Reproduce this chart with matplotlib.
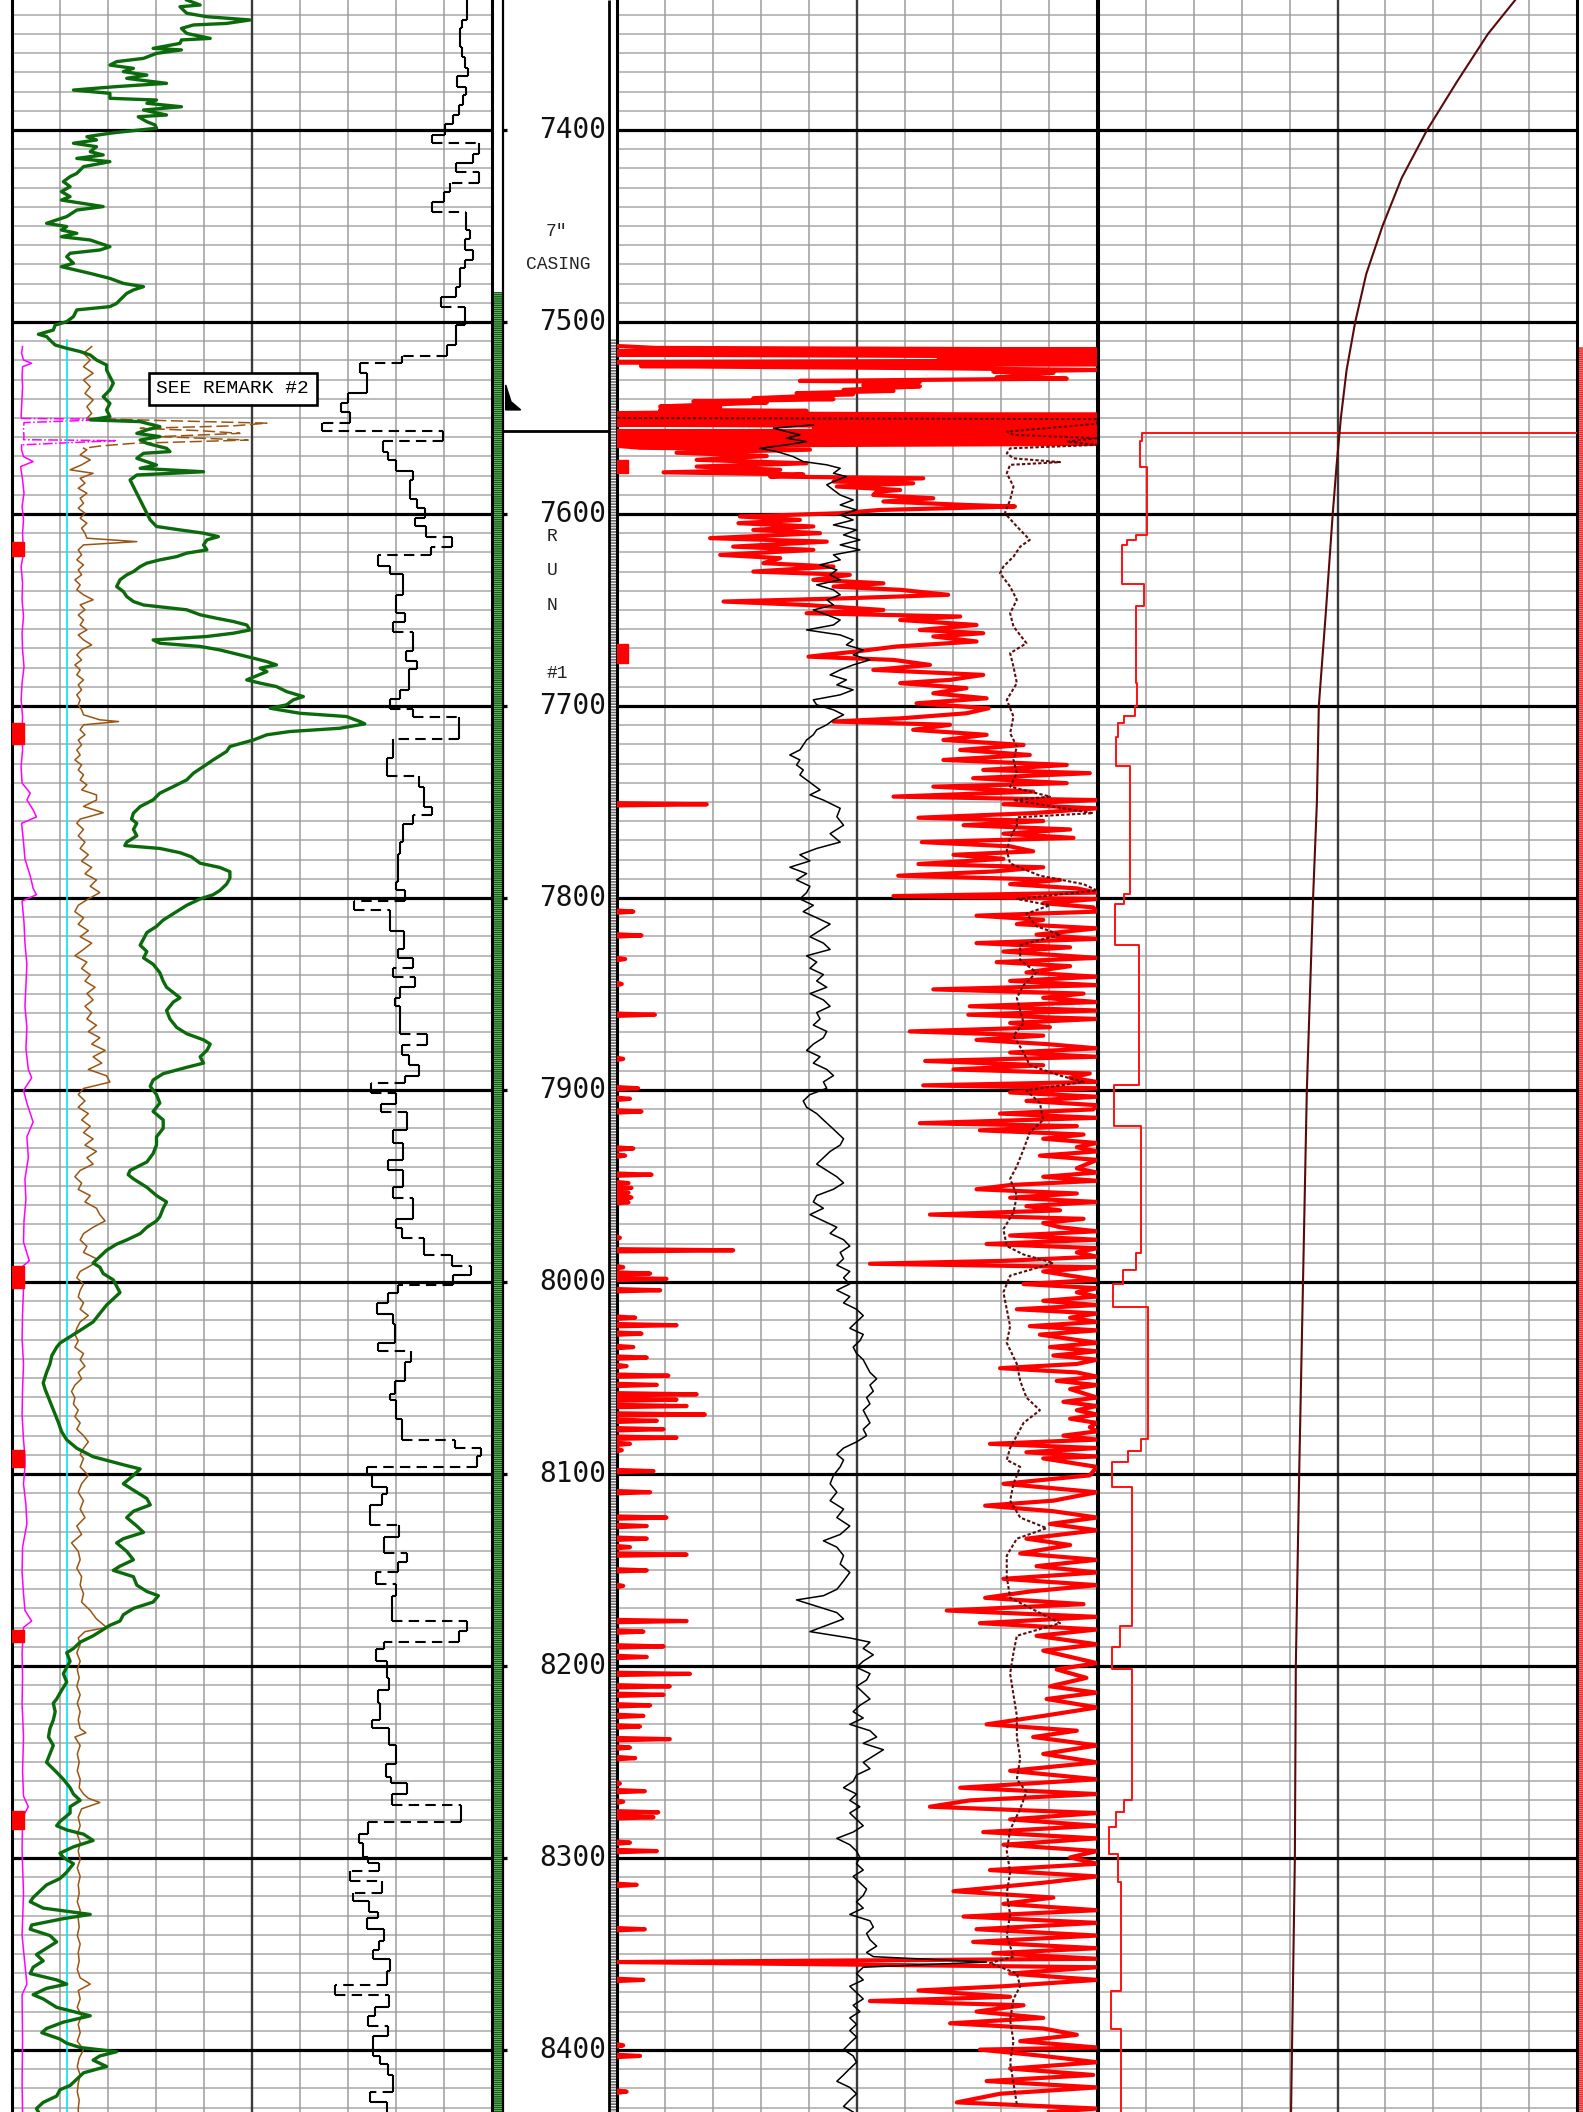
import numpy as np
import matplotlib.pyplot as plt
from matplotlib.patches import Rectangle, Polygon
from matplotlib.collections import LineCollection

plt.rcParams['hatch.linewidth'] = 1.2

# depth window of the print (ft)
TOP, BASE = 7332.3, 8432.3

# ---------------- track 1 (values in chart divisions, 0-10) ----------------
# green curve (depth, value)
green = [
    (7332.3, 3.64), (7334.9, 3.92), (7335.8, 3.50), (7339.2, 3.64), (7341.0, 4.06), (7342.7, 4.96),
    (7344.5, 4.47), (7345.3, 3.78), (7347.1, 3.53), (7349.7, 3.64), (7352.3, 4.13), (7353.1, 3.53),
    (7354.9, 3.50), (7357.5, 2.94), (7358.3, 3.53), (7360.1, 3.01), (7362.7, 2.74), (7364.4, 2.18),
    (7366.2, 2.04), (7367.9, 2.53), (7369.6, 2.32), (7371.4, 2.81), (7373.1, 2.39), (7375.7, 3.22),
    (7377.4, 2.18), (7379.2, 1.28), (7380.9, 2.04), (7383.5, 2.04), (7384.4, 3.01), (7386.1, 2.81),
    (7387.9, 3.53), (7389.6, 2.74), (7392.2, 3.22), (7393.1, 2.63), (7395.7, 2.81), (7397.4, 2.98),
    (7399.1, 3.01), (7400.9, 2.32), (7401.7, 2.04), (7403.5, 1.56), (7405.2, 1.76), (7406.9, 1.28),
    (7408.7, 1.76), (7411.3, 1.63), (7413.0, 1.90), (7414.8, 1.35), (7416.5, 2.04), (7419.1, 1.49),
    (7422.6, 1.35), (7424.3, 1.21), (7426.9, 1.07), (7429.5, 1.21), (7432.1, 1.03), (7434.7, 1.21),
    (7436.5, 1.03), (7439.9, 1.90), (7441.7, 1.35), (7445.1, 1.14), (7448.6, 0.72), (7450.3, 1.14),
    (7452.1, 1.03), (7453.8, 1.35), (7455.6, 1.03), (7457.3, 1.63), (7459.0, 1.83), (7460.8, 2.04),
    (7462.5, 1.83), (7464.2, 1.21), (7466.0, 1.14), (7469.4, 1.28), (7471.2, 1.03), (7474.7, 1.63),
    (7477.3, 2.04), (7479.9, 2.32), (7481.6, 2.74), (7483.3, 2.53), (7485.1, 2.39), (7486.8, 2.32),
    (7488.5, 2.25), (7490.3, 2.18), (7492.0, 2.04), (7493.7, 1.35), (7497.2, 1.28), (7499.8, 1.14),
    (7501.6, 0.90), (7504.2, 0.86), (7506.4, 0.55), (7507.6, 0.72), (7509.4, 0.79), (7512.0, 0.90),
    (7513.7, 1.14), (7515.4, 1.42), (7517.2, 1.63), (7519.8, 1.76), (7522.4, 1.97), (7525.0, 1.97),
    (7528.5, 2.04), (7531.9, 2.11), (7535.4, 2.04), (7538.9, 1.90), (7542.4, 2.04), (7545.8, 1.97),
    (7549.3, 2.04), (7551.0, 1.63), (7551.9, 2.67), (7554.5, 3.08), (7556.2, 2.81), (7558.0, 2.60),
    (7559.7, 3.08), (7561.5, 2.67), (7563.2, 2.81), (7565.8, 3.22), (7567.5, 3.29), (7568.4, 2.74),
    (7571.0, 2.60), (7574.5, 3.01), (7576.2, 2.67), (7578.0, 3.99), (7579.7, 2.60), (7582.3, 2.46),
    (7585.8, 2.53), (7589.2, 2.60), (7592.7, 2.67), (7596.2, 2.74), (7599.6, 2.81), (7603.1, 2.88),
    (7606.5, 3.01), (7608.3, 3.50), (7610.0, 3.99), (7611.8, 4.30), (7613.5, 4.06), (7616.1, 3.99),
    (7618.7, 4.06), (7620.4, 3.64), (7622.2, 3.43), (7623.9, 3.08), (7625.6, 2.81), (7627.4, 2.67),
    (7630.0, 2.53), (7631.7, 2.39), (7634.3, 2.25), (7637.8, 2.18), (7640.4, 2.32), (7643.0, 2.39),
    (7645.6, 2.53), (7647.4, 2.74), (7649.9, 3.64), (7652.5, 3.92), (7654.3, 4.26), (7656.0, 4.61),
    (7657.8, 4.89), (7660.4, 4.96), (7662.1, 4.61), (7663.8, 4.06), (7665.6, 2.94), (7667.3, 3.08),
    (7669.0, 3.92), (7670.8, 4.33), (7672.5, 4.61), (7675.1, 5.03), (7676.9, 5.31), (7678.6, 5.51),
    (7680.3, 5.17), (7682.1, 5.31), (7686.4, 4.89), (7688.1, 5.17), (7689.9, 5.51), (7692.5, 5.72),
    (7695.1, 6.07), (7696.8, 5.86), (7699.4, 5.72), (7701.2, 5.38), (7703.8, 6.00), (7705.5, 6.97),
    (7708.1, 7.25), (7709.3, 7.35), (7711.6, 6.83), (7713.3, 5.79), (7715.0, 5.31), (7717.7, 5.03),
    (7721.1, 4.54), (7723.7, 4.47), (7728.1, 4.19), (7731.5, 3.99), (7735.0, 3.78), (7738.5, 3.64),
    (7742.0, 3.36), (7745.4, 3.08), (7748.9, 2.94), (7752.4, 2.67), (7755.8, 2.53), (7758.9, 2.49),
    (7761.1, 2.60), (7764.3, 2.53), (7767.6, 2.60), (7770.9, 2.39), (7772.7, 2.35), (7774.2, 3.08),
    (7776.4, 3.50), (7778.6, 3.74), (7781.9, 3.92), (7784.1, 4.33), (7786.3, 4.54), (7789.6, 4.54),
    (7792.8, 4.47), (7796.1, 4.33), (7798.3, 4.19), (7800.5, 3.92), (7803.8, 3.64), (7807.1, 3.43),
    (7811.5, 3.15), (7814.8, 3.01), (7818.0, 2.81), (7821.3, 2.74), (7824.6, 2.67), (7827.9, 2.81),
    (7831.2, 2.74), (7834.5, 2.94), (7838.9, 3.08), (7843.3, 3.15), (7846.5, 3.22), (7852.0, 3.50),
    (7854.2, 3.36), (7858.6, 3.22), (7863.0, 3.29), (7867.4, 3.43), (7870.7, 3.64), (7873.9, 3.99),
    (7876.1, 4.13), (7879.4, 4.06), (7882.7, 3.92), (7886.0, 3.99), (7888.2, 3.64), (7891.5, 3.15),
    (7894.8, 2.94), (7898.1, 2.88), (7902.4, 3.01), (7906.8, 3.08), (7911.2, 2.94), (7915.6, 3.15),
    (7920.0, 3.15), (7924.4, 3.01), (7928.7, 3.01), (7933.1, 2.94), (7937.5, 2.81), (7941.9, 2.46),
    (7944.1, 2.42), (7946.3, 2.53), (7950.7, 2.81), (7955.0, 3.01), (7958.3, 3.22), (7961.6, 3.15),
    (7966.0, 3.08), (7968.2, 3.01), (7971.5, 2.81), (7974.8, 2.67), (7978.1, 2.39), (7980.3, 2.18),
    (7983.5, 1.97), (7986.8, 1.83), (7990.1, 1.69), (7992.3, 1.83), (7995.6, 1.90), (7998.9, 2.11),
    (8002.2, 2.18), (8005.5, 2.25), (8008.8, 2.11), (8012.0, 1.97), (8016.4, 1.83), (8020.8, 1.69),
    (8025.2, 1.42), (8029.6, 1.14), (8031.8, 1.00), (8034.0, 0.93), (8038.3, 0.83), (8042.7, 0.79),
    (8047.1, 0.72), (8052.6, 0.65), (8055.9, 0.69), (8060.3, 0.76), (8064.6, 0.83), (8069.0, 0.90),
    (8073.4, 0.97), (8077.8, 1.03), (8082.2, 1.14), (8086.6, 1.35), (8091.0, 1.69), (8095.2, 2.32),
    (8097.4, 2.67), (8100.7, 2.53), (8105.1, 2.32), (8109.5, 2.60), (8112.8, 2.81), (8116.1, 2.88),
    (8119.4, 2.53), (8122.7, 2.39), (8127.1, 2.60), (8130.4, 2.74), (8133.7, 2.32), (8135.9, 2.18),
    (8140.3, 2.39), (8144.7, 2.53), (8148.0, 2.25), (8150.2, 2.11), (8153.5, 2.53), (8157.9, 2.60),
    (8161.2, 2.81), (8163.4, 3.05), (8166.7, 2.94), (8170.0, 2.53), (8173.3, 2.32), (8176.6, 2.25),
    (8178.8, 2.04), (8181.0, 1.90), (8184.3, 1.69), (8187.6, 1.42), (8190.9, 1.28), (8193.1, 1.14),
    (8197.5, 1.21), (8200.7, 1.14), (8204.0, 1.07), (8208.4, 1.14), (8212.8, 1.03), (8217.2, 0.93),
    (8219.4, 0.86), (8223.8, 0.90), (8228.2, 0.86), (8232.6, 0.79), (8237.0, 0.76), (8241.4, 0.86),
    (8245.8, 0.79), (8250.2, 0.72), (8254.6, 0.90), (8259.0, 1.07), (8263.4, 1.21), (8266.7, 1.28),
    (8270.0, 1.42), (8273.3, 1.21), (8276.6, 1.21), (8281.0, 1.00), (8283.2, 0.93), (8285.4, 1.14),
    (8287.6, 1.49), (8290.9, 1.69), (8294.2, 1.28), (8297.5, 1.00), (8299.7, 1.07), (8303.0, 1.28),
    (8307.4, 1.14), (8310.7, 1.00), (8314.0, 0.72), (8317.3, 0.58), (8320.6, 0.44), (8322.8, 0.38),
    (8326.1, 0.65), (8329.4, 1.63), (8331.6, 1.07), (8334.9, 0.41), (8337.1, 0.38), (8340.4, 0.79),
    (8343.7, 0.93), (8347.0, 0.72), (8350.3, 0.51), (8353.6, 0.65), (8356.9, 0.44), (8360.2, 0.38),
    (8363.5, 0.93), (8365.7, 1.14), (8367.9, 0.72), (8371.2, 0.44), (8373.4, 0.65), (8377.8, 0.93),
    (8382.2, 1.63), (8385.5, 1.07), (8388.8, 0.72), (8391.0, 0.62), (8394.3, 1.00), (8396.5, 1.14),
    (8398.7, 1.42), (8400.9, 2.18), (8403.1, 1.83), (8405.3, 1.69), (8408.6, 1.97), (8411.9, 1.49),
    (8415.2, 1.35), (8418.5, 1.21), (8420.7, 1.00), (8424.0, 0.93), (8427.3, 0.65), (8430.5, 0.51),
    (8432.3, 0.55),
]

# brown curve
brown = [
    (7512.8, 1.66), (7516.3, 1.49), (7519.8, 1.63), (7523.3, 1.49), (7526.7, 1.69), (7530.2, 1.49),
    (7533.7, 1.63), (7537.2, 1.52), (7540.6, 1.69), (7544.1, 1.56), (7547.6, 1.66), (7550.2, 1.56),
    (7551.4, 3.22), (7552.7, 5.31), (7554.1, 4.61), (7555.4, 2.67), (7556.6, 3.92), (7558.0, 4.75),
    (7559.7, 3.08), (7561.5, 4.92), (7563.2, 2.53), (7564.6, 1.83), (7565.8, 1.49), (7566.6, 1.56),
    (7569.2, 1.42), (7571.8, 1.63), (7574.4, 1.45), (7577.0, 1.21), (7578.8, 1.69), (7581.4, 1.42),
    (7584.0, 1.52), (7586.6, 1.38), (7589.2, 1.56), (7591.8, 1.42), (7594.4, 1.49), (7597.0, 1.38),
    (7599.6, 1.52), (7602.2, 1.42), (7604.8, 1.56), (7607.4, 1.45), (7610.0, 1.52), (7612.6, 1.56),
    (7614.4, 2.60), (7616.1, 1.49), (7618.7, 1.38), (7621.3, 1.45), (7623.9, 1.35), (7626.5, 1.49),
    (7629.1, 1.38), (7631.7, 1.45), (7634.3, 1.31), (7636.9, 1.42), (7639.5, 1.35), (7642.1, 1.49),
    (7644.7, 1.69), (7647.3, 1.42), (7649.9, 1.52), (7652.6, 1.38), (7655.2, 1.49), (7657.8, 1.42),
    (7660.4, 1.56), (7663.0, 1.38), (7665.6, 1.49), (7668.2, 1.66), (7670.8, 1.45), (7673.4, 1.35),
    (7676.0, 1.45), (7678.6, 1.31), (7681.2, 1.42), (7683.8, 1.35), (7686.4, 1.49), (7689.0, 1.38),
    (7691.6, 1.45), (7694.2, 1.35), (7696.8, 1.42), (7699.4, 1.38), (7702.0, 1.45), (7704.6, 1.49),
    (7707.2, 1.83), (7708.1, 2.22), (7709.8, 1.49), (7712.4, 1.42), (7715.0, 1.52), (7717.7, 1.38),
    (7720.3, 1.45), (7722.9, 1.35), (7725.5, 1.42), (7728.1, 1.31), (7730.7, 1.45), (7733.3, 1.38),
    (7735.9, 1.49), (7738.5, 1.42), (7741.1, 1.56), (7743.7, 1.45), (7746.3, 1.76), (7749.0, 1.76),
    (7752.3, 1.49), (7755.6, 1.90), (7758.9, 1.42), (7761.1, 1.35), (7764.3, 1.49), (7767.6, 1.38),
    (7770.9, 1.52), (7774.2, 1.42), (7777.5, 1.59), (7780.8, 1.45), (7784.1, 1.66), (7787.4, 1.52),
    (7790.6, 1.76), (7793.9, 1.63), (7797.2, 1.83), (7800.5, 1.59), (7803.8, 1.38), (7807.1, 1.31),
    (7810.4, 1.49), (7813.7, 1.38), (7817.0, 1.59), (7820.2, 1.42), (7823.5, 1.66), (7826.8, 1.49),
    (7830.1, 1.31), (7833.4, 1.56), (7836.7, 1.45), (7840.0, 1.63), (7843.3, 1.52), (7846.5, 1.73),
    (7849.8, 1.56), (7853.1, 1.69), (7856.4, 1.52), (7859.7, 1.66), (7863.0, 1.56), (7866.3, 1.76),
    (7869.6, 1.59), (7872.8, 1.83), (7876.1, 1.66), (7879.4, 1.94), (7882.7, 1.69), (7886.0, 1.87),
    (7889.3, 1.59), (7892.6, 1.97), (7895.9, 2.04), (7899.2, 1.49), (7902.4, 1.38), (7905.7, 1.52),
    (7909.0, 1.38), (7912.3, 1.59), (7915.6, 1.45), (7918.9, 1.63), (7922.2, 1.49), (7925.5, 1.69),
    (7928.7, 1.52), (7932.0, 1.76), (7935.3, 1.56), (7938.6, 1.69), (7941.9, 1.42), (7945.2, 1.31),
    (7948.5, 1.45), (7951.8, 1.38), (7955.0, 1.63), (7958.3, 1.52), (7961.6, 1.76), (7964.9, 1.83),
    (7968.2, 1.94), (7971.5, 1.69), (7974.8, 1.49), (7978.1, 1.42), (7981.4, 1.56), (7984.6, 1.49),
    (7987.9, 1.76), (7991.2, 1.66), (7994.5, 1.42), (7997.8, 1.35), (8001.1, 1.49), (8004.4, 1.42),
    (8007.7, 1.38), (8010.9, 1.49), (8014.2, 1.42), (8017.5, 1.59), (8020.8, 1.42), (8024.1, 1.35),
    (8027.4, 1.31), (8030.7, 1.38), (8034.0, 1.31), (8037.3, 1.49), (8040.5, 1.42), (8043.8, 1.52),
    (8047.1, 1.38), (8050.4, 1.45), (8053.7, 1.31), (8057.0, 1.24), (8060.3, 1.31), (8063.6, 1.28),
    (8066.8, 1.38), (8070.1, 1.31), (8073.4, 1.42), (8076.7, 1.35), (8080.0, 1.49), (8083.3, 1.59),
    (8086.6, 1.49), (8089.9, 1.42), (8091.9, 1.49), (8096.3, 1.42), (8100.7, 1.59), (8105.1, 1.45),
    (8109.5, 1.38), (8113.9, 1.49), (8118.3, 1.42), (8122.7, 1.52), (8127.1, 1.35), (8131.5, 1.45),
    (8135.9, 1.24), (8140.3, 1.38), (8144.7, 1.42), (8149.1, 1.35), (8153.5, 1.45), (8157.9, 1.42),
    (8162.3, 1.49), (8166.7, 1.45), (8171.1, 1.63), (8175.5, 1.76), (8179.9, 1.97), (8182.1, 1.52),
    (8185.4, 1.38), (8188.7, 1.42), (8193.1, 1.35), (8197.5, 1.42), (8201.9, 1.36), (8206.2, 1.40),
    (8210.6, 1.35), (8215.0, 1.42), (8219.4, 1.36), (8223.8, 1.42), (8228.2, 1.38), (8232.6, 1.42),
    (8234.8, 1.54), (8237.0, 1.31), (8241.4, 1.42), (8245.8, 1.36), (8250.2, 1.40), (8254.6, 1.36),
    (8259.0, 1.42), (8263.4, 1.40), (8266.7, 1.49), (8268.9, 1.59), (8271.1, 1.83), (8274.4, 1.45),
    (8278.8, 1.38), (8283.2, 1.42), (8287.6, 1.36), (8292.0, 1.42), (8296.4, 1.38), (8300.8, 1.42),
    (8305.2, 1.36), (8309.6, 1.42), (8314.0, 1.38), (8318.4, 1.40), (8322.8, 1.36), (8327.2, 1.42),
    (8331.6, 1.38), (8336.0, 1.40), (8340.4, 1.36), (8344.8, 1.42), (8349.2, 1.38), (8353.6, 1.40),
    (8358.0, 1.36), (8362.4, 1.42), (8365.7, 1.63), (8369.0, 1.38), (8373.4, 1.42), (8377.8, 1.36),
    (8382.2, 1.45), (8386.6, 1.38), (8391.0, 1.42), (8395.4, 1.36), (8399.8, 1.49), (8404.2, 1.40),
    (8408.6, 1.36), (8413.0, 1.42), (8417.4, 1.38), (8421.8, 1.36), (8426.1, 1.40), (8430.5, 1.38),
    (8432.3, 1.38),
]
brown_dash_zone = (7550.2, 7565.8)

# magenta curve
magenta = [
    (7512.8, 0.22), (7516.3, 0.20), (7519.8, 0.24), (7521.5, 0.41), (7523.3, 0.22), (7528.5, 0.21),
    (7533.7, 0.22), (7538.9, 0.21), (7544.1, 0.20), (7549.3, 0.19), (7550.2, 0.20), (7550.7, 2.15),
    (7552.4, 0.25), (7556.2, 0.24), (7559.7, 0.25), (7561.3, 0.24), (7561.8, 2.15), (7564.0, 0.20),
    (7566.6, 0.20), (7570.1, 0.24), (7572.7, 0.44), (7575.3, 0.18), (7582.2, 0.22), (7589.2, 0.25),
    (7596.1, 0.21), (7603.1, 0.24), (7610.0, 0.22), (7620.4, 0.24), (7627.4, 0.19), (7636.1, 0.22),
    (7644.7, 0.21), (7653.4, 0.24), (7662.1, 0.21), (7670.8, 0.22), (7679.5, 0.25), (7688.1, 0.21),
    (7696.8, 0.19), (7705.5, 0.22), (7714.2, 0.21), (7722.9, 0.22), (7731.5, 0.19), (7740.2, 0.21),
    (7745.4, 0.38), (7748.9, 0.31), (7754.1, 0.44), (7757.8, 0.51), (7761.1, 0.20), (7770.9, 0.24),
    (7779.7, 0.27), (7788.5, 0.38), (7795.0, 0.44), (7798.3, 0.51), (7801.6, 0.21), (7812.6, 0.25),
    (7823.5, 0.27), (7834.5, 0.31), (7845.4, 0.29), (7856.4, 0.27), (7867.4, 0.31), (7878.3, 0.29),
    (7889.3, 0.34), (7893.7, 0.41), (7900.2, 0.24), (7906.8, 0.31), (7916.7, 0.44), (7924.4, 0.31),
    (7935.3, 0.34), (7946.3, 0.27), (7957.2, 0.29), (7968.2, 0.25), (7979.2, 0.24), (7989.0, 0.36),
    (7992.3, 0.20), (8003.3, 0.24), (8016.4, 0.22), (8029.6, 0.21), (8042.7, 0.24), (8055.9, 0.22),
    (8069.0, 0.21), (8082.2, 0.24), (8091.0, 0.27), (8096.3, 0.27), (8105.1, 0.24), (8116.1, 0.29),
    (8126.0, 0.31), (8138.1, 0.22), (8151.3, 0.21), (8162.3, 0.24), (8171.1, 0.27), (8176.6, 0.41),
    (8179.9, 0.24), (8193.1, 0.21), (8206.2, 0.22), (8219.4, 0.21), (8237.0, 0.24), (8254.6, 0.22),
    (8267.8, 0.24), (8273.3, 0.34), (8278.8, 0.22), (8296.4, 0.21), (8318.4, 0.24), (8340.4, 0.21),
    (8365.7, 0.31), (8371.2, 0.21), (8395.4, 0.22), (8417.3, 0.21), (8432.3, 0.22),
]
magenta_dash_zone = (7550.2, 7564.0)

# cyan reference line
cyan_value, cyan_top = 1.15, 7509.3

# black stepped curve: (top of step, value)
black_steps = [
    (7332.3, 9.47), (7342.7, 9.37), (7347.1, 9.33), (7356.6, 9.37), (7361.8, 9.44), (7367.9, 9.49),
    (7371.9, 9.28), (7377.4, 9.45), (7381.8, 9.39), (7387.0, 9.31), (7392.2, 9.18), (7396.9, 9.02),
    (7402.6, 8.76), (7406.6, 9.73), (7412.5, 9.60), (7417.4, 9.26), (7422.1, 9.73), (7427.4, 9.13),
    (7432.1, 9.01), (7437.3, 8.76), (7442.5, 9.45), (7452.1, 9.54), (7456.9, 9.44), (7462.5, 9.60),
    (7467.7, 9.44), (7472.1, 9.33), (7481.6, 9.26), (7486.8, 8.93), (7492.3, 9.44), (7501.5, 9.26),
    (7511.9, 9.06), (7517.5, 8.12), (7521.5, 7.24), (7526.7, 7.39), (7537.1, 7.01), (7542.3, 6.85),
    (7546.7, 7.04), (7552.4, 6.45), (7556.6, 8.97), (7561.8, 7.72), (7567.5, 7.84), (7571.8, 8.01),
    (7577.4, 8.36), (7582.2, 8.29), (7592.3, 8.43), (7597.0, 8.60), (7602.2, 8.40), (7606.5, 8.63),
    (7612.1, 9.16), (7617.3, 8.73), (7621.6, 7.62), (7626.9, 7.88), (7631.2, 8.15), (7642.1, 7.99),
    (7651.7, 8.19), (7656.0, 7.94), (7661.6, 8.36), (7671.6, 8.21), (7676.5, 8.44), (7680.8, 8.28),
    (7691.6, 8.08), (7696.5, 7.88), (7701.7, 8.36), (7705.8, 9.31), (7717.3, 7.94), (7727.2, 7.82),
    (7736.4, 8.47), (7742.3, 8.58), (7752.4, 8.76), (7756.7, 8.36), (7761.7, 8.15), (7770.9, 8.08),
    (7777.1, 8.05), (7791.7, 8.00), (7796.1, 8.19), (7801.6, 7.13), (7806.4, 7.88), (7817.0, 8.17),
    (7826.8, 8.05), (7831.2, 8.36), (7836.7, 7.94), (7841.1, 8.40), (7846.5, 8.08), (7852.0, 7.98),
    (7856.4, 8.08), (7870.7, 8.64), (7876.6, 8.12), (7881.6, 8.28), (7887.1, 8.47), (7892.6, 8.19),
    (7896.3, 7.48), (7901.8, 8.01), (7907.3, 7.68), (7911.6, 8.22), (7921.1, 7.94), (7927.6, 8.15),
    (7936.4, 7.84), (7941.9, 8.15), (7950.7, 7.94), (7956.1, 8.36), (7967.1, 8.01), (7972.1, 8.12),
    (7977.0, 8.58), (7986.2, 9.16), (7991.9, 9.56), (7996.3, 9.19), (8001.7, 8.05), (8005.9, 7.84),
    (8010.9, 7.61), (8016.9, 7.94), (8021.9, 7.98), (8031.8, 7.63), (8036.2, 8.31), (8041.6, 8.19),
    (8051.5, 7.98), (8058.1, 7.88), (8061.4, 8.01), (8071.2, 8.12), (8082.2, 9.23), (8086.6, 9.78),
    (8090.8, 9.69), (8096.3, 7.39), (8100.7, 7.49), (8106.9, 7.81), (8110.6, 7.70), (8116.1, 7.46),
    (8126.6, 8.06), (8132.6, 7.75), (8141.4, 8.22), (8145.8, 8.05), (8151.3, 7.58), (8157.4, 8.00),
    (8163.4, 7.91), (8176.6, 9.47), (8181.6, 9.32), (8187.6, 7.75), (8191.3, 7.58), (8197.5, 7.81),
    (8206.2, 7.86), (8212.4, 7.63), (8219.4, 7.67), (8228.2, 7.51), (8232.2, 7.86), (8241.4, 8.00),
    (8251.3, 7.79), (8257.9, 7.89), (8261.2, 8.22), (8266.7, 7.91), (8272.2, 9.35), (8281.4, 7.42),
    (8287.6, 7.22), (8292.0, 7.32), (8299.7, 7.42), (8302.6, 7.65), (8307.0, 7.04), (8312.2, 7.70),
    (8318.0, 7.11), (8322.4, 7.44), (8328.3, 7.63), (8331.2, 7.39), (8337.1, 7.74), (8343.0, 7.65),
    (8348.1, 7.53), (8352.5, 7.88), (8359.1, 7.81), (8366.3, 6.73), (8371.6, 7.86), (8377.8, 7.56),
    (8382.2, 7.42), (8387.7, 7.84), (8392.7, 7.53), (8403.1, 7.67), (8407.5, 7.84), (8413.0, 7.93),
    (8421.8, 7.46), (8427.3, 7.81),
]

# red flags on the left edge of tracks 1 and 2 (top, base)
flags_t1 = [(7614.6, 7621.9), (7708.9, 7719.8), (7991.8, 8003.2), (8087.5, 8096.3),
            (8181.0, 8187.6), (8275.5, 8284.8)]
flags_t2 = [(7571.8, 7578.4), (7667.8, 7677.4)]

# ---------------- track 2 ----------------
# red curve (wraps off the right edge)
red2 = [
    (7512.5, 0.0), (7513.5, 0.8), (7514.3, 10.0), (7515.2, 0.0), (7516.0, 10.0), (7517.0, 0.0),
    (7518.0, 10.0), (7519.0, 6.7), (7520.0, 10.0), (7521.0, 0.0), (7522.0, 10.0), (7523.0, 0.5),
    (7524.1, 6.73), (7525.0, 10.0), (7525.8, 7.84), (7526.5, 9.09), (7528.8, 7.91), (7529.5, 9.37),
    (7530.7, 3.81), (7531.2, 6.31), (7533.0, 5.13), (7533.5, 6.31), (7535.4, 4.72), (7535.9, 5.76),
    (7537.1, 3.74), (7537.6, 4.92), (7539.7, 2.84), (7540.2, 4.51), (7541.4, 1.59), (7541.9, 3.12),
    (7544.0, 0.90), (7544.5, 2.15), (7545.8, 0.90), (7546.3, 3.95), (7547.5, 0.0), (7548.3, 10.0),
    (7549.0, 0.0), (7549.8, 10.0), (7550.5, 0.0), (7551.3, 10.0), (7552.0, 0.0), (7552.8, 10.0),
    (7553.5, 0.0), (7554.5, 10.0), (7555.5, 4.1), (7556.3, 10.0), (7557.0, 0.0), (7558.0, 10.0),
    (7559.0, 0.0), (7560.0, 10.0), (7560.8, 0.0), (7561.8, 10.0), (7562.7, 0.0), (7563.5, 10.0),
    (7564.5, 0.0), (7565.5, 0.48), (7566.5, 4.02), (7568.1, 1.24), (7569.8, 3.12), (7571.8, 1.66),
    (7573.6, 3.95), (7575.3, 1.66), (7577.0, 3.40), (7578.3, 0.97), (7579.4, 3.88), (7580.5, 3.19),
    (7581.4, 6.38), (7583.1, 4.51), (7584.0, 6.17), (7585.7, 4.58), (7587.5, 5.90), (7588.4, 5.41),
    (7590.1, 5.34), (7591.8, 6.59), (7593.5, 5.55), (7595.3, 7.28), (7596.1, 8.29), (7597.9, 5.48),
    (7599.6, 4.65), (7601.3, 2.56), (7603.1, 3.81), (7604.8, 2.53), (7606.5, 4.09), (7608.3, 2.84),
    (7610.0, 4.23), (7612.6, 1.94), (7614.4, 4.37), (7617.0, 2.42), (7618.7, 4.09), (7621.3, 2.15),
    (7623.0, 3.40), (7625.6, 3.05), (7627.4, 4.51), (7630.0, 2.84), (7631.7, 4.85), (7634.3, 4.09),
    (7636.1, 5.55), (7637.8, 4.51), (7639.5, 5.90), (7642.1, 6.90), (7643.9, 4.78), (7645.6, 2.22),
    (7647.4, 3.95), (7650.0, 5.55), (7651.7, 3.95), (7653.4, 7.15), (7655.2, 5.90), (7657.8, 7.49),
    (7660.4, 6.31), (7662.1, 7.63), (7663.8, 6.59), (7666.4, 7.49), (7669.0, 5.83), (7671.6, 4.99),
    (7674.3, 3.99), (7676.0, 5.76), (7678.6, 6.52), (7681.2, 5.34), (7683.8, 7.63), (7686.4, 6.94),
    (7688.1, 5.90), (7690.7, 7.28), (7693.4, 6.59), (7696.0, 7.70), (7698.6, 6.24), (7701.2, 7.74),
    (7703.8, 7.28), (7706.4, 5.93), (7708.1, 4.51), (7709.8, 6.94), (7712.4, 6.17), (7715.0, 7.70),
    (7717.7, 6.80), (7720.3, 8.47), (7722.9, 7.15), (7725.5, 8.60), (7728.1, 6.80), (7730.7, 9.37),
    (7733.3, 7.63), (7735.0, 9.85), (7737.6, 7.42), (7740.2, 9.37), (7742.0, 6.59), (7744.6, 8.67),
    (7747.2, 5.76), (7749.0, 10.0), (7751.2, 8.05), (7753.3, 10.0), (7755.8, 8.67), (7758.2, 6.28),
    (7759.9, 8.88), (7762.1, 7.22), (7764.3, 9.44), (7766.5, 8.05), (7768.7, 9.51), (7770.9, 6.35),
    (7773.1, 8.19), (7775.7, 8.67), (7777.5, 7.01), (7779.6, 8.05), (7782.3, 6.28), (7784.0, 8.88),
    (7786.2, 7.84), (7788.4, 5.86), (7790.6, 9.23), (7792.8, 8.19), (7795.0, 9.58), (7797.2, 10.0),
    (7799.0, 5.76), (7800.5, 10.0), (7802.7, 8.88), (7804.9, 9.92), (7807.1, 10.0), (7809.2, 7.49),
    (7811.4, 8.88), (7813.6, 8.33), (7815.8, 10.0), (7819.1, 8.74), (7821.3, 10.0), (7823.5, 7.49),
    (7825.7, 9.44), (7827.9, 8.05), (7831.2, 10.0), (7833.4, 7.91), (7835.5, 9.44), (7838.8, 8.53),
    (7841.0, 10.0), (7843.2, 8.19), (7845.4, 10.0), (7847.6, 6.59), (7849.8, 9.72), (7852.0, 8.88),
    (7854.2, 10.0), (7856.4, 7.35), (7858.6, 10.0), (7860.8, 7.32), (7863.0, 10.0), (7865.1, 8.19),
    (7867.3, 9.02), (7869.5, 6.10), (7871.7, 8.88), (7873.9, 7.49), (7876.1, 8.95), (7878.3, 10.0),
    (7880.5, 8.19), (7882.7, 10.0), (7884.9, 6.42), (7887.1, 8.88), (7889.3, 7.01), (7891.4, 9.85),
    (7893.6, 9.44), (7895.8, 10.0), (7897.6, 6.38), (7899.1, 10.0), (7901.3, 8.19), (7903.5, 10.0),
    (7905.7, 8.53), (7907.9, 10.0), (7910.1, 9.92), (7912.3, 7.98), (7914.5, 10.0), (7917.3, 6.31),
    (7918.8, 9.58), (7921.0, 7.56), (7923.2, 9.72), (7925.4, 8.88), (7927.6, 10.0), (7929.8, 9.58),
    (7932.0, 10.0), (7934.2, 8.81), (7936.4, 10.0), (7940.8, 9.58), (7943.0, 10.0), (7945.2, 8.88),
    (7947.3, 10.0), (7949.5, 8.19), (7951.7, 7.49), (7953.9, 9.58), (7956.1, 8.19), (7958.3, 10.0),
    (7960.5, 8.53), (7962.7, 9.23), (7964.9, 6.52), (7967.1, 9.72), (7969.3, 8.88), (7971.5, 9.23),
    (7973.6, 10.0), (7975.8, 8.19), (7978.0, 10.0), (7980.2, 7.70), (7982.4, 10.0), (7984.6, 9.58),
    (7986.8, 10.0), (7989.0, 8.05), (7990.5, 5.27), (7992.3, 10.0), (7994.5, 8.88), (7998.9, 10.0),
    (8001.1, 8.47), (8003.2, 10.0), (8005.4, 9.58), (8007.6, 10.0), (8009.8, 8.88), (8012.0, 10.0),
    (8014.2, 8.33), (8016.4, 10.0), (8018.6, 9.44), (8020.8, 10.0), (8023.0, 8.60), (8025.2, 10.0),
    (8027.4, 8.81), (8031.7, 10.0), (8033.9, 9.02), (8036.1, 10.0), (8038.3, 9.09), (8040.5, 10.0),
    (8042.7, 9.58), (8044.9, 7.98), (8047.1, 9.58), (8049.3, 10.0), (8051.5, 9.16), (8053.7, 10.0),
    (8055.8, 9.44), (8060.2, 10.0), (8062.4, 9.30), (8064.6, 10.0), (8066.8, 9.58), (8069.0, 10.0),
    (8071.2, 9.44), (8073.4, 10.0), (8075.6, 9.85), (8077.8, 10.0), (8080.0, 9.30), (8082.1, 10.0),
    (8084.3, 7.77), (8086.5, 10.0), (8088.7, 8.53), (8090.9, 10.0), (8091.9, 8.88), (8096.3, 10.0),
    (8100.7, 9.85), (8105.1, 8.05), (8109.5, 10.0), (8113.9, 9.09), (8116.5, 7.67), (8119.4, 9.09),
    (8122.7, 10.0), (8126.0, 9.02), (8129.3, 10.0), (8133.7, 8.53), (8137.0, 9.44), (8141.4, 8.40),
    (8144.7, 10.0), (8148.0, 8.74), (8151.3, 10.0), (8154.6, 8.05), (8157.9, 10.0), (8161.2, 8.60),
    (8164.5, 7.67), (8167.8, 9.72), (8171.1, 6.87), (8174.4, 10.0), (8177.7, 7.56), (8181.0, 10.0),
    (8184.3, 8.74), (8188.7, 10.0), (8192.0, 8.88), (8198.5, 10.0), (8201.8, 9.16), (8206.2, 9.78),
    (8210.6, 9.02), (8213.9, 10.0), (8217.2, 8.95), (8221.6, 10.0), (8226.0, 8.88), (8230.4, 7.70),
    (8233.7, 9.58), (8237.0, 8.67), (8241.4, 10.0), (8245.8, 8.88), (8250.2, 10.0), (8254.6, 8.19),
    (8259.0, 10.0), (8263.4, 7.15), (8266.7, 10.0), (8270.0, 7.35), (8273.3, 6.52), (8276.6, 10.0),
    (8279.9, 8.19), (8283.2, 10.0), (8286.5, 7.63), (8289.8, 10.0), (8293.1, 8.05), (8296.4, 10.0),
    (8299.7, 9.44), (8303.0, 10.0), (8306.3, 7.77), (8309.6, 10.0), (8312.9, 8.88), (8317.3, 7.01),
    (8320.6, 9.09), (8323.9, 8.05), (8327.2, 10.0), (8330.5, 7.22), (8333.8, 10.0), (8337.1, 7.49),
    (8340.4, 10.0), (8343.7, 7.42), (8347.0, 10.0), (8349.6, 7.84), (8352.5, 10.0), (8354.2, 0.0),
    (8356.9, 10.0), (8360.2, 8.19), (8363.5, 10.0), (8366.8, 8.05), (8369.0, 6.28), (8372.3, 8.19),
    (8374.5, 5.27), (8376.7, 8.47), (8380.0, 7.49), (8383.3, 8.88), (8386.1, 6.94), (8388.8, 8.88),
    (8392.1, 9.58), (8395.4, 8.40), (8398.7, 10.0), (8399.8, 7.56), (8403.1, 8.88), (8406.4, 10.0),
    (8409.7, 8.19), (8413.0, 9.92), (8416.2, 7.70), (8419.5, 10.0), (8422.8, 7.98), (8427.3, 7.08),
    (8430.5, 10.0), (8432.3, 9.0),
]
# wrapped part of the red curve, seen on the left edge (depth, value - 10)
red2_wrap = [
    (7751.2, 1.87), (7807.1, 0.34), (7819.5, 0.51), (7831.8, 0.17), (7844.8, 0.10), (7860.8, 0.79),
    (7883.8, 0.13), (7899.1, 0.44), (7904.6, 0.27), (7911.2, 0.51), (7930.5, 0.34), (7934.2, 0.17),
    (7944.1, 0.72), (7948.5, 0.24), (7951.0, 0.30), (7953.5, 0.24), (7956.0, 0.30), (7958.5, 0.24),
    (7977.0, 0.06), (7983.5, 2.42), (7992.3, 0.13), (7995.6, 0.69), (7998.4, 1.03), (8004.3, 0.90),
    (8018.6, 0.38), (8022.5, 1.24), (8026.9, 0.51), (8033.9, 0.34), (8039.4, 0.62), (8043.8, 0.20),
    (8048.8, 1.07), (8053.6, 0.83), (8058.5, 1.66), (8061.3, 1.24), (8064.6, 1.45), (8069.0, 1.83),
    (8072.3, 0.83), (8076.7, 0.97), (8081.1, 1.24), (8084.3, 0.27), (8087.6, 0.10), (8098.5, 0.76),
    (8109.5, 0.69), (8122.7, 1.03), (8127.1, 0.62), (8133.7, 0.62), (8138.1, 0.27), (8142.0, 1.45),
    (8150.2, 0.62), (8158.3, 0.13), (8176.6, 1.45), (8182.1, 0.55), (8189.8, 0.97), (8195.3, 0.62),
    (8204.1, 1.52), (8210.6, 1.10), (8215.0, 0.97), (8220.5, 0.69), (8226.0, 0.55), (8231.5, 0.48),
    (8238.1, 1.10), (8242.5, 0.27), (8248.0, 0.38), (8261.2, 0.06), (8265.2, 0.58), (8270.7, 0.13),
    (8276.2, 0.86), (8278.8, 0.76), (8292.0, 0.27), (8296.4, 0.83), (8314.0, 0.41), (8337.1, 0.58),
    (8363.5, 0.55), (8397.6, 0.13), (8403.1, 0.48), (8421.7, 0.20),
]

# thin black curve
black2 = [
    (7553.6, 4.09), (7555.3, 3.26), (7557.1, 3.53), (7558.8, 3.81), (7560.5, 3.53), (7562.3, 3.95),
    (7564.0, 3.53), (7565.8, 2.98), (7567.5, 3.33), (7570.1, 3.67), (7572.7, 3.88), (7574.4, 4.37),
    (7576.2, 4.65), (7578.8, 4.51), (7580.5, 4.78), (7583.1, 4.51), (7584.8, 4.37), (7587.5, 4.51),
    (7590.1, 4.65), (7592.7, 4.92), (7595.3, 4.65), (7597.9, 4.99), (7600.5, 4.65), (7603.1, 4.92),
    (7605.7, 4.51), (7608.3, 4.99), (7610.9, 4.72), (7613.5, 5.06), (7616.1, 4.65), (7618.7, 5.06),
    (7621.3, 4.51), (7623.9, 4.65), (7626.5, 4.23), (7629.1, 4.58), (7631.7, 4.44), (7634.3, 4.65),
    (7636.9, 4.16), (7639.5, 4.51), (7642.1, 4.65), (7644.7, 4.37), (7647.4, 4.51), (7650.0, 4.09),
    (7652.5, 4.37), (7655.2, 4.65), (7657.8, 4.51), (7660.4, 3.95), (7663.0, 4.65), (7665.6, 4.92),
    (7668.2, 4.78), (7670.8, 5.13), (7673.4, 4.92), (7676.0, 5.27), (7678.6, 4.92), (7681.2, 4.65),
    (7683.8, 4.44), (7686.4, 4.78), (7689.0, 4.58), (7691.6, 4.92), (7694.2, 4.65), (7696.8, 4.09),
    (7699.4, 4.16), (7702.0, 4.51), (7704.6, 4.72), (7707.2, 4.51), (7709.8, 4.37), (7712.4, 4.16),
    (7715.0, 4.09), (7717.7, 3.95), (7720.3, 3.88), (7722.9, 3.81), (7725.5, 3.60), (7728.1, 3.81),
    (7730.7, 3.74), (7733.3, 3.88), (7735.9, 3.81), (7738.5, 3.95), (7741.1, 4.09), (7743.7, 4.23),
    (7746.3, 4.02), (7749.0, 4.30), (7753.3, 4.65), (7757.7, 4.58), (7762.1, 4.72), (7766.5, 4.44),
    (7770.9, 4.65), (7774.2, 4.16), (7777.5, 3.81), (7780.7, 4.02), (7784.0, 3.60), (7787.3, 3.95),
    (7790.6, 3.74), (7793.9, 4.02), (7797.2, 3.95), (7800.5, 3.81), (7803.8, 4.09), (7807.1, 3.88),
    (7810.3, 4.16), (7813.6, 4.44), (7816.9, 4.23), (7820.2, 4.02), (7823.5, 4.30), (7826.8, 4.44),
    (7830.1, 3.95), (7833.4, 4.16), (7836.6, 4.02), (7839.9, 4.30), (7843.2, 4.16), (7846.5, 4.37),
    (7849.8, 4.02), (7853.1, 4.30), (7856.4, 4.44), (7859.7, 4.16), (7863.0, 4.23), (7866.2, 4.09),
    (7869.5, 4.37), (7872.8, 4.30), (7876.1, 4.09), (7879.4, 3.95), (7882.7, 4.23), (7886.0, 4.09),
    (7889.3, 4.37), (7892.5, 4.51), (7895.8, 4.30), (7899.1, 4.37), (7902.4, 4.02), (7905.7, 3.88),
    (7909.0, 3.95), (7912.3, 4.16), (7915.6, 4.30), (7918.8, 4.44), (7922.1, 4.58), (7925.4, 4.72),
    (7928.7, 4.65), (7932.0, 4.44), (7935.3, 4.30), (7938.6, 4.16), (7941.9, 4.37), (7945.2, 4.58),
    (7948.4, 4.72), (7951.7, 4.51), (7955.0, 4.16), (7958.3, 4.09), (7961.6, 4.30), (7964.9, 4.02),
    (7968.2, 4.30), (7971.5, 4.58), (7974.7, 4.44), (7978.0, 4.72), (7981.3, 4.85), (7984.6, 4.65),
    (7987.9, 4.72), (7991.2, 4.58), (7994.5, 4.85), (7997.8, 4.72), (8001.0, 4.85), (8004.3, 4.58),
    (8007.6, 4.85), (8010.9, 4.72), (8014.2, 4.99), (8017.5, 5.13), (8020.8, 4.99), (8024.1, 4.85),
    (8027.3, 5.13), (8030.6, 5.06), (8033.9, 4.92), (8037.2, 4.99), (8040.5, 5.13), (8043.8, 5.20),
    (8047.1, 5.27), (8050.4, 5.41), (8053.7, 5.27), (8056.9, 5.34), (8060.2, 5.20), (8063.5, 5.27),
    (8066.8, 5.13), (8070.1, 5.20), (8073.4, 5.27), (8076.7, 5.13), (8080.0, 5.20), (8083.3, 4.99),
    (8086.5, 4.72), (8089.8, 4.58), (8092.7, 4.72), (8096.3, 4.65), (8100.7, 4.51), (8105.1, 4.44),
    (8109.5, 4.58), (8113.9, 4.44), (8118.3, 4.72), (8122.7, 4.58), (8127.1, 4.85), (8131.5, 4.65),
    (8134.8, 4.30), (8138.1, 4.58), (8142.5, 4.72), (8146.9, 4.65), (8151.3, 4.85), (8155.7, 4.72),
    (8160.1, 4.58), (8163.4, 4.30), (8165.6, 3.74), (8168.9, 4.16), (8172.2, 4.58), (8175.5, 4.72),
    (8178.8, 4.37), (8182.1, 4.02), (8185.4, 4.85), (8187.6, 5.27), (8190.9, 5.13), (8194.2, 5.34),
    (8197.5, 5.13), (8200.7, 4.99), (8204.0, 5.27), (8207.3, 5.20), (8210.6, 4.99), (8213.9, 5.13),
    (8217.2, 5.27), (8220.5, 5.06), (8223.8, 4.92), (8227.1, 5.13), (8230.4, 4.85), (8233.7, 5.27),
    (8237.0, 5.41), (8240.3, 5.13), (8243.6, 5.55), (8246.9, 5.34), (8250.2, 5.13), (8253.5, 5.27),
    (8256.8, 4.99), (8260.1, 4.92), (8263.4, 4.72), (8266.7, 4.99), (8270.0, 4.85), (8273.3, 5.06),
    (8276.6, 4.85), (8279.9, 4.99), (8283.2, 5.13), (8286.5, 4.92), (8289.8, 4.58), (8293.1, 4.85),
    (8296.4, 4.99), (8299.7, 5.06), (8303.0, 4.99), (8306.3, 5.13), (8309.6, 4.92), (8312.9, 5.06),
    (8316.2, 5.20), (8319.5, 5.13), (8322.8, 4.99), (8326.1, 5.13), (8329.4, 4.85), (8332.7, 5.27),
    (8336.0, 5.34), (8339.3, 5.20), (8342.6, 5.27), (8345.9, 5.41), (8349.2, 5.20), (8351.4, 5.34),
    (8354.2, 7.70), (8356.9, 5.13), (8360.2, 4.99), (8363.5, 5.13), (8366.8, 4.85), (8370.1, 4.99),
    (8373.4, 5.13), (8376.7, 4.92), (8380.0, 5.06), (8383.3, 4.85), (8386.6, 4.99), (8389.9, 4.85),
    (8393.2, 4.99), (8396.5, 4.85), (8399.8, 4.72), (8403.1, 4.92), (8406.4, 4.99), (8409.7, 4.85),
    (8413.0, 4.72), (8416.3, 4.58), (8419.5, 4.85), (8422.8, 4.99), (8426.1, 4.85), (8429.4, 4.72),
    (8432.3, 4.92),
]

# dotted dark-red curve
dotted2 = [
    (7550.0, 0.0), (7550.6, 10.0), (7553.0, 10.0), (7557.1, 8.12), (7558.8, 8.26), (7560.5, 10.0),
    (7562.3, 9.37), (7564.0, 10.0), (7565.8, 8.19), (7568.4, 8.12), (7571.0, 8.26), (7573.0, 9.23),
    (7574.4, 8.19), (7578.8, 8.12), (7585.7, 8.26), (7592.7, 8.19), (7599.6, 8.08), (7606.5, 8.33),
    (7613.5, 8.60), (7617.0, 8.40), (7622.2, 8.26), (7627.4, 8.05), (7630.9, 7.98), (7637.8, 8.19),
    (7644.7, 8.33), (7651.7, 8.19), (7658.6, 8.26), (7667.3, 8.53), (7672.5, 8.19), (7679.5, 8.26),
    (7688.1, 8.33), (7696.8, 8.12), (7705.5, 8.26), (7714.2, 8.19), (7721.1, 8.33), (7728.1, 8.26),
    (7735.0, 8.33), (7742.0, 8.19), (7747.2, 9.02), (7749.0, 8.26), (7755.8, 9.92), (7758.0, 8.33),
    (7762.1, 8.33), (7768.7, 8.19), (7775.3, 8.12), (7782.0, 8.19), (7788.4, 8.81), (7792.8, 9.72),
    (7796.1, 10.0), (7800.5, 8.33), (7803.8, 9.02), (7808.2, 8.53), (7814.7, 8.74), (7819.1, 9.23),
    (7824.6, 8.40), (7832.3, 8.40), (7838.8, 8.74), (7845.4, 8.47), (7852.0, 8.33), (7858.6, 8.40),
    (7865.1, 8.47), (7871.7, 8.26), (7880.5, 8.47), (7887.1, 8.60), (7892.5, 9.23), (7895.8, 9.72),
    (7900.2, 8.53), (7906.8, 8.81), (7915.6, 8.88), (7922.1, 8.60), (7930.9, 8.47), (7939.7, 8.33),
    (7946.3, 8.19), (7955.0, 8.33), (7963.8, 8.26), (7972.5, 8.05), (7981.3, 8.12), (7985.7, 8.47),
    (7990.1, 9.09), (7996.7, 8.19), (8005.4, 8.05), (8014.2, 8.12), (8023.0, 8.19), (8031.7, 8.12),
    (8042.7, 8.33), (8051.5, 8.40), (8060.2, 8.53), (8066.8, 8.81), (8073.4, 8.47), (8080.0, 8.33),
    (8086.5, 8.19), (8092.7, 8.12), (8096.3, 8.40), (8105.1, 8.26), (8113.9, 8.19), (8122.7, 8.40),
    (8128.2, 8.95), (8133.7, 8.33), (8142.5, 8.12), (8153.5, 8.12), (8164.5, 8.19), (8177.7, 9.23),
    (8184.3, 8.33), (8193.1, 8.26), (8204.0, 8.19), (8215.0, 8.26), (8226.0, 8.33), (8237.0, 8.33),
    (8248.0, 8.40), (8259.0, 8.33), (8265.6, 8.53), (8274.4, 8.40), (8285.4, 8.19), (8296.4, 8.12),
    (8307.4, 8.19), (8318.4, 8.12), (8329.4, 8.19), (8340.4, 8.12), (8351.4, 8.26), (8354.7, 7.77),
    (8360.2, 8.33), (8366.8, 8.40), (8373.4, 8.26), (8384.4, 8.19), (8395.4, 8.26), (8406.4, 8.19),
    (8417.3, 8.26), (8428.3, 8.33),
]

# ---------------- track 3 ----------------
# red stepped curve: (top of step, value)
red3_steps = [
    (7557.7, 10.0), (7557.8, 0.91), (7562.0, 0.88), (7575.5, 1.02), (7611.0, 0.80), (7613.5, 0.60),
    (7616.0, 0.50), (7636.5, 0.97), (7648.0, 0.79), (7688.0, 0.82), (7700.0, 0.78), (7705.0, 0.55),
    (7709.0, 0.42), (7716.0, 0.38), (7731.0, 0.67), (7798.0, 0.55), (7803.0, 0.35), (7824.5, 0.86),
    (7897.5, 0.34), (7919.0, 0.90), (7985.0, 0.80), (7994.0, 0.52), (8001.0, 0.31), (8013.0, 1.04),
    (8082.0, 0.90), (8088.0, 0.62), (8094.0, 0.29), (8107.0, 0.72), (8179.0, 0.45), (8190.0, 0.29),
    (8201.5, 0.70), (8270.0, 0.55), (8276.0, 0.38), (8284.0, 0.23), (8298.0, 0.42), (8312.5, 0.47),
    (8369.5, 0.27), (8389.0, 0.48),
]
# smooth dark-red curve
curve3 = [
    (7332.3, 8.71), (7350.0, 8.14), (7375.0, 7.49), (7400.0, 6.87), (7425.0, 6.34), (7450.0, 5.94),
    (7475.0, 5.60), (7500.0, 5.37), (7525.0, 5.19), (7550.0, 5.07), (7575.0, 4.98), (7600.0, 4.90),
    (7650.0, 4.76), (7700.0, 4.61), (7750.0, 4.57), (7800.0, 4.49), (7900.0, 4.36), (8000.0, 4.28),
    (8100.0, 4.20), (8200.0, 4.13), (8300.0, 4.11), (8400.0, 4.05), (8432.3, 4.03),
]

# hatched bars: top depths
green_bar_top, gray_bar_top, red_bar_top = 7484.4, 7508.9, 7513.0
casing_shoe = 7556.8


def cols(pts):
    a = np.array(pts, dtype=float)
    return a[:, 0], a[:, 1]


def steps(pts, base):
    t = [p[0] for p in pts] + [base]
    xs, ys = [], []
    for i, p in enumerate(pts):
        xs += [p[1], p[1]]
        ys += [t[i], t[i + 1]]
    return xs, ys


def setup_track(ax):
    ax.set_xlim(0, 10)
    ax.set_ylim(BASE, TOP)
    ax.set_xticks([])
    ax.set_yticks([])
    for s in ('top', 'bottom'):
        ax.spines[s].set_visible(False)
    for s in ('left', 'right'):
        ax.spines[s].set_linewidth(2.2)
    minor = np.arange(7340, 8440, 10)
    ax.hlines(minor[minor % 100 != 0], 0, 10, color='#a8a8a8', lw=1.1, zorder=0)
    ax.vlines([1, 2, 3, 4, 6, 7, 8, 9], TOP, BASE, color='#9c9c9c', lw=1.1, zorder=0)
    ax.vlines(5, TOP, BASE, color='#3a3a3a', lw=1.7, zorder=0.5)
    ax.hlines(np.arange(7400, 8500, 100), 0, 10, color='black', lw=2.3, zorder=0.6)


W = 1583.0
fig = plt.figure(figsize=(15.83, 21.12), dpi=100)
ax1 = fig.add_axes([12 / W, 0, 480 / W, 1])
axd = fig.add_axes([492 / W, 0, 125 / W, 1])
ax2 = fig.add_axes([617 / W, 0, 480 / W, 1])
ax3 = fig.add_axes([1098 / W, 0, 479 / W, 1])
for a in (ax1, ax2, ax3):
    setup_track(a)

# ---- track 1 ----
d, v = cols(brown)
z0, z1 = brown_dash_zone
m = d <= z0
ax1.plot(v[m], d[m], color='#9a5512', lw=1.1, zorder=3)
m = (d >= z0) & (d <= z1)
ax1.plot(v[m], d[m], color='#9a5512', lw=1.1, ls=(0, (8, 3)), zorder=3)
m = d >= z1
ax1.plot(v[m], d[m], color='#9a5512', lw=1.1, zorder=3)

d, v = cols(magenta)
z0, z1 = magenta_dash_zone
m = d <= z0
ax1.plot(v[m], d[m], color='#ff00ff', lw=1.1, zorder=3)
m = (d >= z0) & (d <= z1)
ax1.plot(v[m], d[m], color='#ff00ff', lw=1.1, ls='-.', zorder=3)
m = d >= z1
ax1.plot(v[m], d[m], color='#ff00ff', lw=1.1, zorder=3)

ax1.plot([cyan_value, cyan_value], [cyan_top, BASE], color='#00e8f0', lw=1.2, zorder=3)

d, v = cols(green)
ax1.plot(v, d, color='#0b6a0b', lw=2.4, zorder=4)

xs, ys = steps(black_steps, BASE)
segs, styles = [], []
for i in range(len(xs) - 1):
    segs.append([(xs[i], ys[i]), (xs[i + 1], ys[i + 1])])
    big_jump = ys[i] == ys[i + 1] and abs(xs[i + 1] - xs[i]) > 0.4
    styles.append((0, (5, 3)) if big_jump else 'solid')
ax1.add_collection(LineCollection(segs, colors='black', linewidths=1.5,
                                  linestyles=styles, zorder=4))

for t, b in flags_t1:
    ax1.add_patch(Rectangle((0, t), 0.24, b - t, color='red', zorder=5))

ax1.text(4.60, 7534.9, 'SEE REMARK #2', ha='center', va='center', family='Liberation Mono',
         fontsize=14, zorder=6,
         bbox=dict(boxstyle='square,pad=0.38', fc='white', ec='black', lw=1.9))

# ---- depth track ----
axd.set_xlim(492, 617)
axd.set_ylim(BASE, TOP)
axd.axis('off')
axd.add_patch(Rectangle((494, green_bar_top), 8.3, BASE - green_bar_top, fc='white',
                        ec='#0c640c', hatch='-' * 8, lw=0))
axd.add_patch(Rectangle((609.8, gray_bar_top), 6, BASE - gray_bar_top, fc='white',
                        ec='#707070', hatch='-' * 6, lw=0))
axd.vlines([503.3], TOP, BASE, color='black', lw=1.6)
axd.vlines([608.7], TOP, BASE, color='black', lw=2.0)
axd.hlines(np.arange(7400, 8500, 100), 503.3, 507, color='black', lw=2.3)
axd.hlines(casing_shoe, 503.3, 608.7, color='black', lw=2.0)
axd.add_patch(Polygon([(505.7, 7532.8), (505.7, 7545.8), (520.7, 7545.8), (511, 7541.5)],
                      closed=True, color='black'))
for dep in range(7400, 8500, 100):
    axd.text(573, dep, str(dep), ha='center', va='center', fontsize=20,
             family='DejaVu Sans Mono', color='#111111')
small = dict(ha='center', va='center', fontsize=13, family='Liberation Mono', color='#222222')
axd.text(556, 7453.1, '7"', **small)
axd.text(558, 7470.3, 'CASING', **small)
axd.text(552, 7611.5, 'R', **small)
axd.text(552, 7629.4, 'U', **small)
axd.text(552, 7647.9, 'N', **small)
axd.text(557, 7683.3, '#1', **small)

# ---- track 2 ----
d, v = cols(red2)
ax2.plot(np.clip(v, 0, 10), d, color='#ff0000', lw=3.0, zorder=3)
for dep, val in red2_wrap:
    ax2.plot([0, val, 0], [dep - 0.6, dep, dep + 0.6], color='#ff0000', lw=3.0, zorder=3)
d, v = cols(black2)
ax2.plot(v, d, color='black', lw=1.1, zorder=4)
d, v = cols(dotted2)
ax2.plot(v, d, color='#5e0d0d', lw=1.5, ls=(0, (1.6, 1.0)), zorder=4)
for t, b in flags_t2:
    ax2.add_patch(Rectangle((0, t), 0.23, b - t, color='red', zorder=5))

# ---- track 3 ----
xs, ys = steps(red3_steps, BASE)
ax3.plot(xs, ys, color='#ff1010', lw=1.4, zorder=3)
d, v = cols(curve3)
ax3.plot(v, d, color='#5a0a0a', lw=1.5, zorder=3)
ax3.add_patch(Rectangle((10.03, red_bar_top), 0.11, BASE - red_bar_top, fc='white',
                        ec='#ff2020', hatch='-' * 8, lw=0, clip_on=False, zorder=2))

fig.savefig('out.png', dpi=100)
